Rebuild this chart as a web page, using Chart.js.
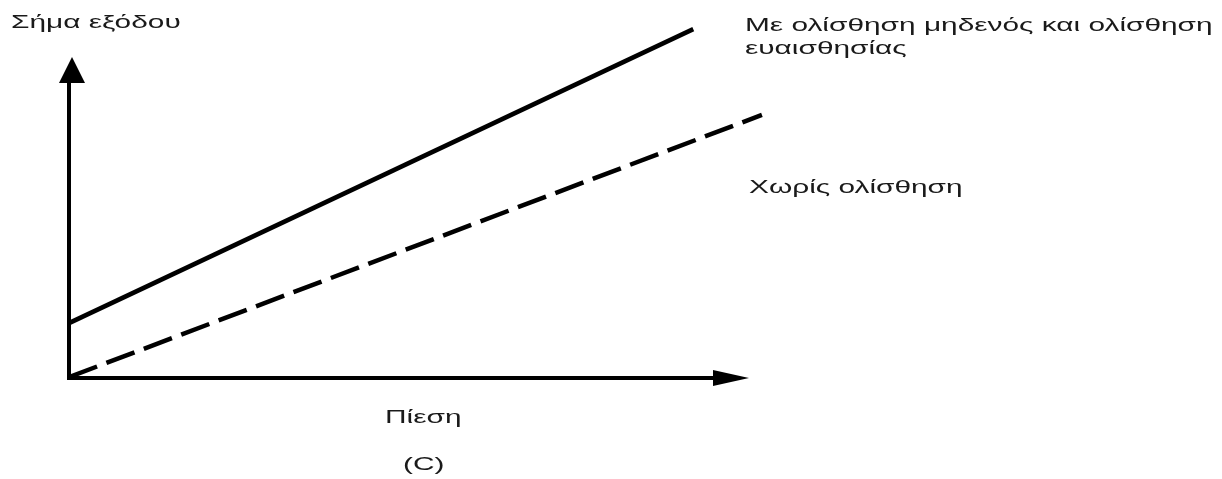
<!DOCTYPE html>
<html><head><meta charset="utf-8">
<script src="https://cdn.jsdelivr.net/npm/chart.js@4/dist/chart.umd.min.js"></script>
<style>html,body{margin:0;padding:0;background:#fff;}#wrap{width:1222px;height:479px;position:relative;}</style>
</head><body><div id="wrap"><canvas id="c"></canvas></div>
<script>
// Data (arbitrary units: pressure on x, output signal on y)
const pressureX = [0, 9.18];
const withDrift = [1.83, 11.63];
const pressureXNoDrift = [0, 10.19];
const noDrift = [0.03, 8.77];
const axisEnd = {x: 10, y: 10.7};
const yAxisLabel = 'Σήμα εξόδου';
const xAxisLabel = 'Πίεση';
const seriesLabels = ['Με ολίσθηση μηδενός και ολίσθηση', 'ευαισθησίας'];
const noDriftLabel = 'Χωρίς ολίσθηση';
const caption = '(C)';

const toPts = (xs, ys) => xs.map((x, i) => ({x, y: ys[i]}));
const FONT = '"Liberation Sans", Arial, sans-serif';

function stretchText(ctx, t, x, y, sx) {
  ctx.save();
  ctx.translate(x, y);
  ctx.scale(sx, 1);
  ctx.fillText(t, 0, 0);
  ctx.restore();
}

const decor = {
  id: 'decor',
  beforeDatasetsDraw(chart) {
    const {ctx, scales: {x, y}} = chart;
    const x0 = x.getPixelForValue(0), y0 = y.getPixelForValue(0);
    const xe = x.getPixelForValue(axisEnd.x), ye = y.getPixelForValue(axisEnd.y);
    ctx.save();
    ctx.strokeStyle = '#000'; ctx.fillStyle = '#000'; ctx.lineWidth = 4;
    ctx.beginPath(); ctx.moveTo(x0, y0); ctx.lineTo(x0, ye + 20); ctx.stroke();
    ctx.beginPath(); ctx.moveTo(x0 - 2, y0); ctx.lineTo(xe - 30, y0); ctx.stroke();
    // y arrow
    ctx.beginPath(); ctx.moveTo(x0 + 3, ye); ctx.lineTo(x0 - 10, ye + 26); ctx.lineTo(x0 + 16, ye + 26); ctx.closePath(); ctx.fill();
    // x arrow
    ctx.beginPath(); ctx.moveTo(xe, y0); ctx.lineTo(xe - 36, y0 - 8); ctx.lineTo(xe - 36, y0 + 8); ctx.closePath(); ctx.fill();
    ctx.restore();
  },
  afterDraw(chart) {
    const {ctx} = chart;
    ctx.save();
    ctx.fillStyle = '#1a1a1a';
    ctx.textBaseline = 'alphabetic';
    ctx.font = '19px ' + FONT;
    const sx = 1.57;
    stretchText(ctx, yAxisLabel, 11, 28, sx);
    stretchText(ctx, seriesLabels[0], 745, 31, sx);
    stretchText(ctx, seriesLabels[1], 745, 54, sx);
    stretchText(ctx, noDriftLabel, 749, 193, sx);
    stretchText(ctx, xAxisLabel, 385, 423, sx);
    stretchText(ctx, caption, 403, 470, sx);
    ctx.restore();
  }
};

new Chart(document.getElementById('c'), {
  type: 'scatter',
  data: {
    datasets: [
      {data: toPts(pressureX, withDrift), showLine: true, borderColor: '#000', borderWidth: 4.5, pointRadius: 0},
      {data: toPts(pressureXNoDrift, noDrift), showLine: true, borderColor: '#000', borderWidth: 4.5, pointRadius: 0, borderDash: [30, 10]}
    ]
  },
  options: {
    responsive: true, maintainAspectRatio: false, animation: false,
    layout: {padding: {left: 69, right: 439, top: 18, bottom: 101}},
    plugins: {legend: {display: false}, tooltip: {enabled: false}},
    scales: {
      x: {type: 'linear', min: 0, max: 10.5, display: false},
      y: {type: 'linear', min: 0, max: 12, display: false}
    }
  },
  plugins: [decor]
});
</script></body></html>
